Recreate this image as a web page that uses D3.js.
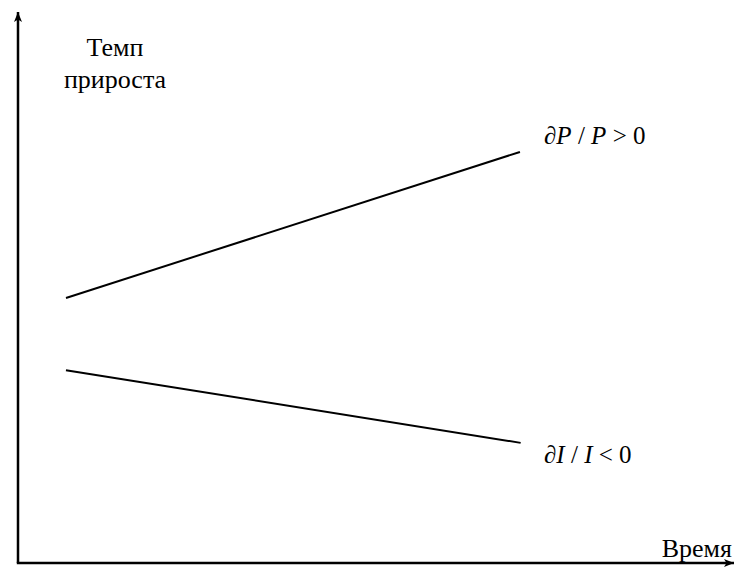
<!DOCTYPE html>
<html>
<head>
<meta charset="utf-8">
<script src="https://cdn.jsdelivr.net/npm/d3@7"></script>
<style>
  html, body { margin: 0; padding: 0; background: #fff; }
  .lbl { font-family: "Liberation Serif"; fill: #000; }
</style>
</head>
<body>
<div id="chart"></div>
<script>
// time runs 0..1 along x, growth rate 0..1 along y (schematic, no units)
const seriesNames = ["P", "I"];
const seriesTimes = [[0.067, 0.701], [0.067, 0.702]];
const seriesRates = [[0.481, 0.746], [0.350, 0.218]];
const seriesLabels = ["∂P / P > 0", "∂I / I < 0"];
const axisLabelY = ["Темп", "прироста"];
const axisLabelX = "Время";

const width = 736, height = 567;
const origin = { x: 18, y: 563 };
const tip = { x: 734, y: 12 };

const x = d3.scaleLinear().domain([0, 1]).range([origin.x, tip.x]);
const y = d3.scaleLinear().domain([0, 1]).range([origin.y, tip.y]);

const svg = d3.select("#chart").append("svg")
  .attr("width", width)
  .attr("height", height);

const defs = svg.append("defs");
defs.append("marker")
  .attr("id", "arrow")
  .attr("viewBox", "0 0 10 8")
  .attr("refX", 10)
  .attr("refY", 4)
  .attr("markerWidth", 10)
  .attr("markerHeight", 8)
  .attr("markerUnits", "userSpaceOnUse")
  .attr("orient", "auto")
  .append("path")
  .attr("d", "M0,0 L10,4 L0,8 L2.5,4 Z")
  .attr("fill", "#000");

// axes
svg.append("line")
  .attr("x1", x(0)).attr("y1", y(0))
  .attr("x2", x(0)).attr("y2", y(1))
  .attr("stroke", "#000").attr("stroke-width", 2.5)
  .attr("marker-end", "url(#arrow)");
svg.append("line")
  .attr("x1", x(0) - 1.2).attr("y1", y(0))
  .attr("x2", x(1)).attr("y2", y(0))
  .attr("stroke", "#000").attr("stroke-width", 2.5)
  .attr("marker-end", "url(#arrow)");

// series lines
const series = seriesNames.map((name, i) => ({
  name,
  label: seriesLabels[i],
  points: seriesTimes[i].map((t, j) => ({ t, r: seriesRates[i][j] }))
}));

const line = d3.line().x(d => x(d.t)).y(d => y(d.r));

svg.selectAll(".series").data(series)
  .join("path")
  .attr("class", "series")
  .attr("d", d => line(d.points))
  .attr("fill", "none")
  .attr("stroke", "#000")
  .attr("stroke-width", 2);

// series labels, math style (italic variables)
svg.selectAll(".series-label").data(series)
  .join("text")
  .attr("class", "series-label lbl")
  .attr("x", 544)
  .attr("y", (d, i) => i === 0 ? 144 : 463)
  .attr("font-size", 25)
  .each(function (d) {
    const t = d3.select(this);
    const parts = d.label.split(" ");
    t.append("tspan").text("∂");
    t.append("tspan").attr("font-style", "italic").text(parts[0].slice(1));
    t.append("tspan").text(" " + parts[1] + " ");
    t.append("tspan").attr("font-style", "italic").text(parts[2]);
    t.append("tspan").text(" " + parts[3] + " " + parts[4]);
  });

// axis labels
svg.append("text")
  .attr("class", "lbl")
  .attr("y", 56)
  .attr("text-anchor", "middle")
  .attr("font-size", 26)
  .selectAll("tspan").data(axisLabelY)
  .join("tspan")
  .attr("x", 115)
  .attr("dy", (d, i) => i === 0 ? 0 : 32)
  .text(d => d);

svg.append("text")
  .attr("class", "lbl")
  .attr("x", 732).attr("y", 557)
  .attr("text-anchor", "end")
  .attr("font-size", 26)
  .text(axisLabelX);
</script>
</body>
</html>
